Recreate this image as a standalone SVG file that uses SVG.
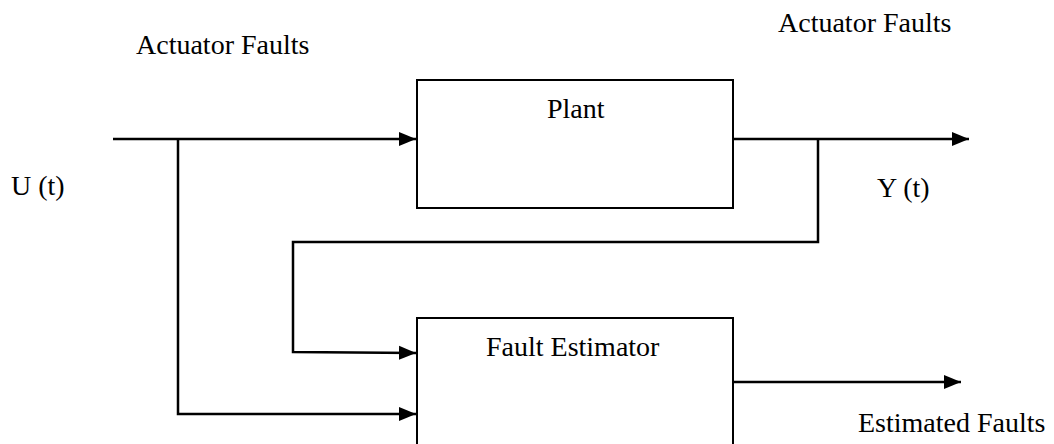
<svg xmlns="http://www.w3.org/2000/svg" width="1054" height="444" viewBox="0 0 1054 444">
<style>
.t{font-family:'Liberation Serif','Times New Roman','DejaVu Serif',serif;font-size:28px;fill:#000}
.box{fill:#fff;stroke:#000;stroke-width:2}
.ln{fill:none;stroke:#000;stroke-width:2.5}
</style>
<defs>
<marker id="ah" markerUnits="userSpaceOnUse" markerWidth="17" markerHeight="17" viewBox="0 0 17 17" refX="17" refY="8.5" orient="auto">
<path d="M0,1.5 L17,8.5 L0,15.5 Z" fill="#000"/>
</marker>
</defs>
<rect width="1054" height="444" fill="#fff"/>
<g id="connectors">
<line class="ln" x1="113" y1="139" x2="416" y2="139" marker-end="url(#ah)"/>
<polyline class="ln" points="178,139 178,414 416,414" marker-end="url(#ah)"/>
<line class="ln" x1="733" y1="139" x2="969" y2="139" marker-end="url(#ah)"/>
<polyline class="ln" points="818,139 818,242 293,242 293,352 416,353" marker-end="url(#ah)"/>
<line class="ln" x1="733" y1="382" x2="961" y2="382" marker-end="url(#ah)"/>
</g>
<g font-family="Liberation Serif, Times New Roman, serif" font-size="28">
<g id="plant">
<rect class="box" x="417" y="80" width="316" height="128"/>
<text class="t" font-family="Liberation Serif, serif" x="547" y="118">Plant</text>
</g>
<g id="fault-estimator">
<rect class="box" x="417" y="318" width="316" height="140"/>
<text class="t" font-family="Liberation Serif, serif" x="486" y="356">Fault Estimator</text>
</g>
<g id="labels">
<text class="t" font-family="Liberation Serif, serif" x="136" y="54">Actuator Faults</text>
<text class="t" font-family="Liberation Serif, serif" x="778" y="32">Actuator Faults</text>
<text class="t" font-family="Liberation Serif, serif" x="11" y="195">U (t)</text>
<text class="t" font-family="Liberation Serif, serif" x="877" y="197">Y (t)</text>
<text class="t" font-family="Liberation Serif, serif" x="858" y="432">Estimated Faults</text>
</g>
</g>
</svg>
